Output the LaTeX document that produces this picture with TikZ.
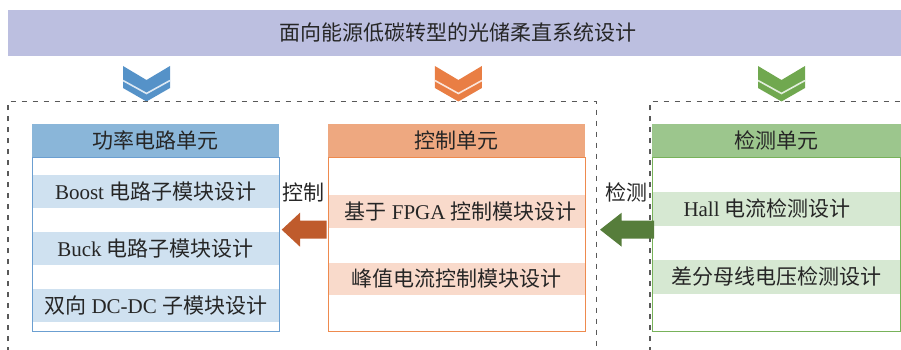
\documentclass[tikz,border=0pt]{standalone}
\usepackage{fontspec}
\setmainfont{Liberation Serif}
\newfontfamily\cjk{Noto Sans CJK SC}
\definecolor{banner}{HTML}{BCBFE0}
\definecolor{txt}{HTML}{262626}
\definecolor{dash}{HTML}{595959}
\definecolor{bluechev}{HTML}{5592C8}
\definecolor{orangechev}{HTML}{E97E44}
\definecolor{greenchev}{HTML}{70A84F}
\definecolor{bluehead}{HTML}{8AB6D9}
\definecolor{blueline}{HTML}{6B9FD1}
\definecolor{bluerow}{HTML}{CFE1F0}
\definecolor{orangehead}{HTML}{EEA880}
\definecolor{orangeline}{HTML}{EE8A4E}
\definecolor{orangerow}{HTML}{F9DACB}
\definecolor{greenhead}{HTML}{9CC68D}
\definecolor{greenline}{HTML}{78B25A}
\definecolor{greenrow}{HTML}{D6E8D2}
\definecolor{arrowA}{HTML}{BF5B2C}
\definecolor{arrowB}{HTML}{567D3B}
\begin{document}
\begin{tikzpicture}[x=1pt,y=-1pt,
  every node/.style={font=\fontsize{21}{25}\selectfont, text=txt, inner sep=0pt},
  boxarea/.style={anchor=north west, minimum width=#1},
  dashbox/.style={draw=dash, line width=1.4pt, dash pattern=on 5pt off 6pt},
  chev/.style={fill=#1, draw=none}
]
\useasboundingbox (0,0) rectangle (901,350);

% banner
\node[boxarea=893, fill=banner, minimum height=46] (banner) at (8,10) {};
\node (title) at (458,33) {\cjk 面向能源低碳转型的光储柔直系统设计};

% chevrons
\foreach \cx/\col in {146.5/bluechev, 458.4/orangechev, 781.5/greenchev}{
  \fill[chev=\col] (\cx-23.5,66) -- (\cx,80) -- (\cx+23.5,66) -- (\cx+23.5,88) -- (\cx,101.5) -- (\cx-23.5,88) -- cycle;
  \draw[white!80!\col, line width=1.6pt] (\cx-23.5,80.5) -- (\cx,93.5) -- (\cx+23.5,80.5);
}

% dashed groups
\draw[dashbox] (8,352) -- (8,101.7) -- (596.7,101.7) -- (596.7,352);
\draw[dashbox] (650,352) -- (650,101.7) -- (903,101.7);

% power unit
\node[boxarea=247, fill=bluehead, minimum height=33] (ph) at (32,124) {};
\node (pht) at (155.5,140.5) {\cjk 功率电路单元};
\node[boxarea=247, fill=bluerow, minimum height=33] (pr1) at (32,174.5) {};
\node[boxarea=247, fill=bluerow, minimum height=33] (pr2) at (32,231.7) {};
\node[boxarea=247, fill=bluerow, minimum height=33] (pr3) at (32,289) {};
\node[boxarea=247, draw=blueline, line width=1pt, minimum height=173.7] (pb) at (32,157) {};
\node at (pr1.center) {Boost {\cjk 电路子模块设计}};
\node at (pr2.center) {Buck {\cjk 电路子模块设计}};
\node at (pr3.center) {{\cjk 双向} DC-DC {\cjk 子模块设计}};

% control unit
\node[boxarea=257, fill=orangehead, minimum height=33] (ch) at (328,124) {};
\node (cht) at (456.5,140.5) {\cjk 控制单元};
\node[boxarea=257, fill=orangerow, minimum height=32.3] (cr1) at (328,195) {};
\node[boxarea=257, fill=orangerow, minimum height=32.3] (cr2) at (328,262.3) {};
\node[boxarea=257, draw=orangeline, line width=1pt, minimum height=173.7] (cb) at (328,157) {};
\node at ([xshift=4]cr1.center) {{\cjk 基于} FPGA {\cjk 控制模块设计}};
\node at (cr2.center) {\cjk 峰值电流控制模块设计};

% detection unit
\node[boxarea=249, fill=greenhead, minimum height=33] (dh) at (652,124) {};
\node (dht) at (776,140.5) {\cjk 检测单元};
\node[boxarea=248, fill=greenrow, minimum height=34] (dr1) at (652,191.7) {};
\node[boxarea=248, fill=greenrow, minimum height=33.3] (dr2) at (652,260) {};
\node[boxarea=248, draw=greenline, line width=1pt, minimum height=173.7] (db) at (652,157) {};
\node at ([xshift=-9]dr1.center) {Hall {\cjk 电流检测设计}};
\node at (dr2.center) {\cjk 差分母线电压检测设计};

% connectors (block arrows from box to box)
\coordinate (a1s) at (326.7,229.7);
\coordinate (a1t) at (281.7,229.7);
\fill[arrowA] (a1s) ++(0,-9) -- ++(-26.7,0) -- ++(0,-8) -- (a1t) -- ++(18.3,17) -- ++(0,-8) -- ++(26.7,0) -- cycle;
\node (lab1) at (303,192) {\cjk 控制};

\coordinate (a2s) at (654,229.7);
\coordinate (a2t) at (600,229.7);
\fill[arrowB] (a2s) ++(0,-9) -- ++(-32.3,0) -- ++(0,-8) -- (a2t) -- ++(21.7,17) -- ++(0,-8) -- ++(32.3,0) -- cycle;
\node (lab2) at (626,192) {\cjk 检测};
\end{tikzpicture}
\end{document}
